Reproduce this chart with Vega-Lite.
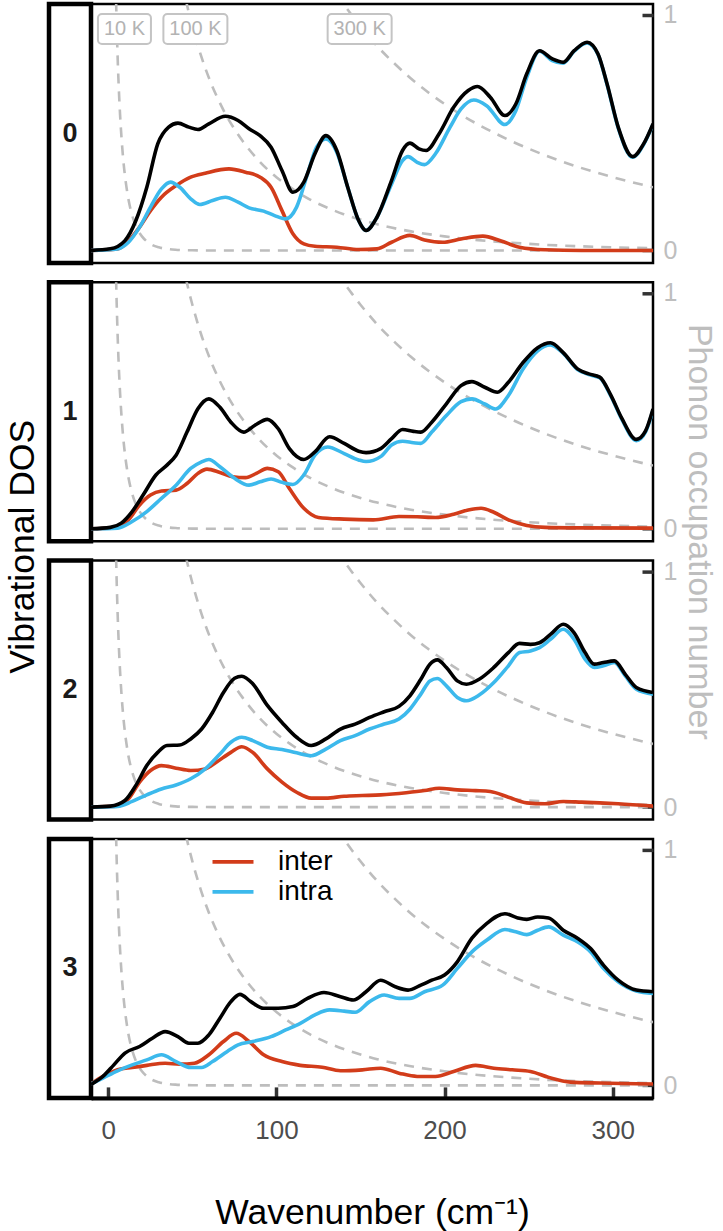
{
  "$schema": "https://vega.github.io/schema/vega-lite/v6.json",
  "padding": {"left": 2, "top": 1, "right": 4, "bottom": 0},
  "config": {
    "font": "Liberation Sans",
    "axis": {"labelFont": "Liberation Sans", "titleFont": "Liberation Sans"},
    "legend": {"labelFont": "Liberation Sans"}
  },
  "datasets": {
    "occ": [
      {"temp": "10 K", "wn": 4.0, "value": 1.285}, {"temp": "10 K", "wn": 4.5, "value": 1.098}, {"temp": "10 K", "wn": 5, "value": 0.95}, {"temp": "10 K", "wn": 5.5, "value": 0.829}, {"temp": "10 K", "wn": 6, "value": 0.729}, {"temp": "10 K", "wn": 7, "value": 0.575}, {"temp": "10 K", "wn": 8, "value": 0.463}, {"temp": "10 K", "wn": 9, "value": 0.377}, {"temp": "10 K", "wn": 10, "value": 0.311}, {"temp": "10 K", "wn": 11, "value": 0.259}, {"temp": "10 K", "wn": 12, "value": 0.216}, {"temp": "10 K", "wn": 14, "value": 0.154}, {"temp": "10 K", "wn": 16, "value": 0.111}, {"temp": "10 K", "wn": 18, "value": 0.081}, {"temp": "10 K", "wn": 20, "value": 0.06}, {"temp": "10 K", "wn": 23, "value": 0.038}, {"temp": "10 K", "wn": 26, "value": 0.024}, {"temp": "10 K", "wn": 30, "value": 0.0135}, {"temp": "10 K", "wn": 35, "value": 0.0065}, {"temp": "10 K", "wn": 40, "value": 0.0032}, {"temp": "10 K", "wn": 50, "value": 0.0008}, {"temp": "10 K", "wn": 70, "value": 0}, {"temp": "10 K", "wn": 324, "value": 0},
      {"temp": "100 K", "wn": 40, "value": 1.285}, {"temp": "100 K", "wn": 42, "value": 1.205}, {"temp": "100 K", "wn": 44, "value": 1.132}, {"temp": "100 K", "wn": 46, "value": 1.066}, {"temp": "100 K", "wn": 48, "value": 1.005}, {"temp": "100 K", "wn": 50, "value": 0.95}, {"temp": "100 K", "wn": 55, "value": 0.829}, {"temp": "100 K", "wn": 60, "value": 0.729}, {"temp": "100 K", "wn": 65, "value": 0.646}, {"temp": "100 K", "wn": 70, "value": 0.575}, {"temp": "100 K", "wn": 75, "value": 0.515}, {"temp": "100 K", "wn": 80, "value": 0.463}, {"temp": "100 K", "wn": 90, "value": 0.377}, {"temp": "100 K", "wn": 100, "value": 0.311}, {"temp": "100 K", "wn": 110, "value": 0.259}, {"temp": "100 K", "wn": 120, "value": 0.216}, {"temp": "100 K", "wn": 130, "value": 0.182}, {"temp": "100 K", "wn": 140, "value": 0.154}, {"temp": "100 K", "wn": 150, "value": 0.131}, {"temp": "100 K", "wn": 160, "value": 0.111}, {"temp": "100 K", "wn": 180, "value": 0.081}, {"temp": "100 K", "wn": 200, "value": 0.06}, {"temp": "100 K", "wn": 220, "value": 0.044}, {"temp": "100 K", "wn": 240, "value": 0.033}, {"temp": "100 K", "wn": 260, "value": 0.024}, {"temp": "100 K", "wn": 280, "value": 0.018}, {"temp": "100 K", "wn": 300, "value": 0.0135}, {"temp": "100 K", "wn": 324, "value": 0.0095},
      {"temp": "300 K", "wn": 125, "value": 1.218}, {"temp": "300 K", "wn": 130, "value": 1.155}, {"temp": "300 K", "wn": 135, "value": 1.098}, {"temp": "300 K", "wn": 140, "value": 1.045}, {"temp": "300 K", "wn": 145, "value": 0.996}, {"temp": "300 K", "wn": 150, "value": 0.95}, {"temp": "300 K", "wn": 160, "value": 0.866}, {"temp": "300 K", "wn": 170, "value": 0.794}, {"temp": "300 K", "wn": 180, "value": 0.729}, {"temp": "300 K", "wn": 190, "value": 0.672}, {"temp": "300 K", "wn": 200, "value": 0.621}, {"temp": "300 K", "wn": 210, "value": 0.575}, {"temp": "300 K", "wn": 220, "value": 0.534}, {"temp": "300 K", "wn": 230, "value": 0.497}, {"temp": "300 K", "wn": 240, "value": 0.463}, {"temp": "300 K", "wn": 260, "value": 0.403}, {"temp": "300 K", "wn": 280, "value": 0.353}, {"temp": "300 K", "wn": 300, "value": 0.311}, {"temp": "300 K", "wn": 324, "value": 0.268}
    ],
    "labels": [
      {"temp": "10 K", "wn": 9.6, "value": 0.939},
      {"temp": "100 K", "wn": 51.8, "value": 0.939},
      {"temp": "300 K", "wn": 149.5, "value": 0.939}
    ],
    "dos": [
      {"panel":0,"comp":"inter","wn":-10.3,"value":0},{"panel":0,"comp":"inter","wn":5.5,"value":0.007},{"panel":0,"comp":"inter","wn":12,"value":0.04},{"panel":0,"comp":"inter","wn":18.6,"value":0.099},{"panel":0,"comp":"inter","wn":25.1,"value":0.169},{"panel":0,"comp":"inter","wn":31.6,"value":0.226},{"panel":0,"comp":"inter","wn":40.3,"value":0.275},{"panel":0,"comp":"inter","wn":49,"value":0.311},{"panel":0,"comp":"inter","wn":57.7,"value":0.328},{"panel":0,"comp":"inter","wn":71.8,"value":0.346},{"panel":0,"comp":"inter","wn":81.6,"value":0.332},{"panel":0,"comp":"inter","wn":90.3,"value":0.311},{"panel":0,"comp":"inter","wn":96.8,"value":0.268},{"panel":0,"comp":"inter","wn":103.3,"value":0.169},{"panel":0,"comp":"inter","wn":109.8,"value":0.071},{"panel":0,"comp":"inter","wn":116.3,"value":0.028},{"panel":0,"comp":"inter","wn":122.9,"value":0.018},{"panel":0,"comp":"inter","wn":135.9,"value":0.014},{"panel":0,"comp":"inter","wn":148.9,"value":0.004},{"panel":0,"comp":"inter","wn":159.8,"value":0.007},{"panel":0,"comp":"inter","wn":168.5,"value":0.035},{"panel":0,"comp":"inter","wn":179.4,"value":0.064},{"panel":0,"comp":"inter","wn":188.1,"value":0.045},{"panel":0,"comp":"inter","wn":198.9,"value":0.035},{"panel":0,"comp":"inter","wn":209.8,"value":0.049},{"panel":0,"comp":"inter","wn":222.8,"value":0.061},{"panel":0,"comp":"inter","wn":233.7,"value":0.04},{"panel":0,"comp":"inter","wn":244.6,"value":0.014},{"panel":0,"comp":"inter","wn":259.8,"value":0.003},{"panel":0,"comp":"inter","wn":281.5,"value":0},{"panel":0,"comp":"inter","wn":324,"value":0},
      {"panel":0,"comp":"intra","wn":-10.3,"value":0},{"panel":0,"comp":"intra","wn":5.5,"value":0.007},{"panel":0,"comp":"intra","wn":12,"value":0.035},{"panel":0,"comp":"intra","wn":18.6,"value":0.099},{"panel":0,"comp":"intra","wn":25.1,"value":0.184},{"panel":0,"comp":"intra","wn":31.6,"value":0.261},{"panel":0,"comp":"intra","wn":37,"value":0.29},{"panel":0,"comp":"intra","wn":42.5,"value":0.268},{"panel":0,"comp":"intra","wn":49,"value":0.219},{"panel":0,"comp":"intra","wn":54.4,"value":0.195},{"panel":0,"comp":"intra","wn":62,"value":0.212},{"panel":0,"comp":"intra","wn":69.6,"value":0.226},{"panel":0,"comp":"intra","wn":77.2,"value":0.205},{"panel":0,"comp":"intra","wn":83.7,"value":0.181},{"panel":0,"comp":"intra","wn":92.4,"value":0.167},{"panel":0,"comp":"intra","wn":98.9,"value":0.148},{"panel":0,"comp":"intra","wn":105.5,"value":0.134},{"panel":0,"comp":"intra","wn":112,"value":0.184},{"panel":0,"comp":"intra","wn":118.5,"value":0.325},{"panel":0,"comp":"intra","wn":123.9,"value":0.438},{"panel":0,"comp":"intra","wn":129.4,"value":0.473},{"panel":0,"comp":"intra","wn":135.9,"value":0.417},{"panel":0,"comp":"intra","wn":142.4,"value":0.268},{"panel":0,"comp":"intra","wn":148.9,"value":0.127},{"panel":0,"comp":"intra","wn":153.3,"value":0.085},{"panel":0,"comp":"intra","wn":159.8,"value":0.141},{"panel":0,"comp":"intra","wn":168.5,"value":0.282},{"panel":0,"comp":"intra","wn":175,"value":0.381},{"panel":0,"comp":"intra","wn":178.3,"value":0.398},{"panel":0,"comp":"intra","wn":183.7,"value":0.374},{"panel":0,"comp":"intra","wn":188.1,"value":0.364},{"panel":0,"comp":"intra","wn":194.6,"value":0.41},{"panel":0,"comp":"intra","wn":203.3,"value":0.523},{"panel":0,"comp":"intra","wn":209.8,"value":0.6},{"panel":0,"comp":"intra","wn":217.4,"value":0.638},{"panel":0,"comp":"intra","wn":225,"value":0.614},{"panel":0,"comp":"intra","wn":235.9,"value":0.534},{"panel":0,"comp":"intra","wn":242.4,"value":0.593},{"panel":0,"comp":"intra","wn":248.9,"value":0.734},{"panel":0,"comp":"intra","wn":256.5,"value":0.845},{"panel":0,"comp":"intra","wn":264.1,"value":0.805},{"panel":0,"comp":"intra","wn":270.6,"value":0.794},{"panel":0,"comp":"intra","wn":277.1,"value":0.845},{"panel":0,"comp":"intra","wn":284.8,"value":0.88},{"panel":0,"comp":"intra","wn":291.3,"value":0.831},{"panel":0,"comp":"intra","wn":296.7,"value":0.703},{"panel":0,"comp":"intra","wn":303.3,"value":0.52},{"panel":0,"comp":"intra","wn":311.9,"value":0.395},{"panel":0,"comp":"intra","wn":318.4,"value":0.449},{"panel":0,"comp":"intra","wn":324,"value":0.534},
      {"panel":0,"comp":"total","wn":-10.3,"value":0},{"panel":0,"comp":"total","wn":1.2,"value":0.007},{"panel":0,"comp":"total","wn":9.9,"value":0.042},{"panel":0,"comp":"total","wn":16.4,"value":0.127},{"panel":0,"comp":"total","wn":22.9,"value":0.268},{"panel":0,"comp":"total","wn":29.4,"value":0.452},{"panel":0,"comp":"total","wn":35.9,"value":0.523},{"panel":0,"comp":"total","wn":41.4,"value":0.54},{"panel":0,"comp":"total","wn":47.9,"value":0.523},{"panel":0,"comp":"total","wn":53.3,"value":0.513},{"panel":0,"comp":"total","wn":59.8,"value":0.537},{"panel":0,"comp":"total","wn":69.6,"value":0.569},{"panel":0,"comp":"total","wn":77.2,"value":0.551},{"panel":0,"comp":"total","wn":83.7,"value":0.516},{"panel":0,"comp":"total","wn":90.3,"value":0.487},{"panel":0,"comp":"total","wn":96.8,"value":0.438},{"panel":0,"comp":"total","wn":103.3,"value":0.339},{"panel":0,"comp":"total","wn":109.8,"value":0.247},{"panel":0,"comp":"total","wn":116.3,"value":0.29},{"panel":0,"comp":"total","wn":122.9,"value":0.41},{"panel":0,"comp":"total","wn":129.4,"value":0.487},{"panel":0,"comp":"total","wn":135.9,"value":0.424},{"panel":0,"comp":"total","wn":142.4,"value":0.268},{"panel":0,"comp":"total","wn":148.9,"value":0.127},{"panel":0,"comp":"total","wn":153.3,"value":0.085},{"panel":0,"comp":"total","wn":159.8,"value":0.141},{"panel":0,"comp":"total","wn":168.5,"value":0.297},{"panel":0,"comp":"total","wn":175,"value":0.424},{"panel":0,"comp":"total","wn":179.4,"value":0.455},{"panel":0,"comp":"total","wn":184.8,"value":0.431},{"panel":0,"comp":"total","wn":189.1,"value":0.424},{"panel":0,"comp":"total","wn":196.7,"value":0.494},{"panel":0,"comp":"total","wn":205.4,"value":0.607},{"panel":0,"comp":"total","wn":214.1,"value":0.678},{"panel":0,"comp":"total","wn":219.6,"value":0.695},{"panel":0,"comp":"total","wn":227.2,"value":0.65},{"panel":0,"comp":"total","wn":235.9,"value":0.572},{"panel":0,"comp":"total","wn":242.4,"value":0.621},{"panel":0,"comp":"total","wn":248.9,"value":0.749},{"panel":0,"comp":"total","wn":256.5,"value":0.847},{"panel":0,"comp":"total","wn":264.1,"value":0.812},{"panel":0,"comp":"total","wn":270.6,"value":0.798},{"panel":0,"comp":"total","wn":277.1,"value":0.847},{"panel":0,"comp":"total","wn":284.8,"value":0.883},{"panel":0,"comp":"total","wn":291.3,"value":0.833},{"panel":0,"comp":"total","wn":296.7,"value":0.706},{"panel":0,"comp":"total","wn":303.3,"value":0.523},{"panel":0,"comp":"total","wn":311.9,"value":0.398},{"panel":0,"comp":"total","wn":318.4,"value":0.452},{"panel":0,"comp":"total","wn":324,"value":0.537},
      {"panel":1,"comp":"inter","wn":-10.3,"value":0},{"panel":1,"comp":"inter","wn":5.5,"value":0.006},{"panel":1,"comp":"inter","wn":12,"value":0.038},{"panel":1,"comp":"inter","wn":18.6,"value":0.101},{"panel":1,"comp":"inter","wn":25.1,"value":0.143},{"panel":1,"comp":"inter","wn":31.6,"value":0.16},{"panel":1,"comp":"inter","wn":40.3,"value":0.164},{"panel":1,"comp":"inter","wn":46.8,"value":0.192},{"panel":1,"comp":"inter","wn":53.3,"value":0.235},{"panel":1,"comp":"inter","wn":58.7,"value":0.253},{"panel":1,"comp":"inter","wn":66.4,"value":0.239},{"panel":1,"comp":"inter","wn":74,"value":0.221},{"panel":1,"comp":"inter","wn":81.6,"value":0.217},{"panel":1,"comp":"inter","wn":88.1,"value":0.235},{"panel":1,"comp":"inter","wn":94.6,"value":0.256},{"panel":1,"comp":"inter","wn":101.1,"value":0.242},{"panel":1,"comp":"inter","wn":107.7,"value":0.171},{"panel":1,"comp":"inter","wn":116.3,"value":0.087},{"panel":1,"comp":"inter","wn":125,"value":0.048},{"panel":1,"comp":"inter","wn":140.3,"value":0.041},{"panel":1,"comp":"inter","wn":157.6,"value":0.038},{"panel":1,"comp":"inter","wn":172.9,"value":0.052},{"panel":1,"comp":"inter","wn":183.7,"value":0.051},{"panel":1,"comp":"inter","wn":194.6,"value":0.048},{"panel":1,"comp":"inter","wn":205.4,"value":0.062},{"panel":1,"comp":"inter","wn":214.1,"value":0.08},{"panel":1,"comp":"inter","wn":221.7,"value":0.087},{"panel":1,"comp":"inter","wn":229.3,"value":0.07},{"panel":1,"comp":"inter","wn":238,"value":0.038},{"panel":1,"comp":"inter","wn":248.9,"value":0.014},{"panel":1,"comp":"inter","wn":259.8,"value":0.006},{"panel":1,"comp":"inter","wn":281.5,"value":0.004},{"panel":1,"comp":"inter","wn":324,"value":0.003},
      {"panel":1,"comp":"intra","wn":-10.3,"value":0},{"panel":1,"comp":"intra","wn":5.5,"value":0.003},{"panel":1,"comp":"intra","wn":14.2,"value":0.031},{"panel":1,"comp":"intra","wn":22.9,"value":0.073},{"panel":1,"comp":"intra","wn":31.6,"value":0.129},{"panel":1,"comp":"intra","wn":40.3,"value":0.185},{"panel":1,"comp":"intra","wn":49,"value":0.256},{"panel":1,"comp":"intra","wn":55.5,"value":0.284},{"panel":1,"comp":"intra","wn":59.8,"value":0.294},{"panel":1,"comp":"intra","wn":66.4,"value":0.263},{"panel":1,"comp":"intra","wn":75.1,"value":0.214},{"panel":1,"comp":"intra","wn":83.7,"value":0.185},{"panel":1,"comp":"intra","wn":90.3,"value":0.199},{"panel":1,"comp":"intra","wn":96.8,"value":0.211},{"panel":1,"comp":"intra","wn":103.3,"value":0.197},{"panel":1,"comp":"intra","wn":109.8,"value":0.188},{"panel":1,"comp":"intra","wn":116.3,"value":0.228},{"panel":1,"comp":"intra","wn":122.9,"value":0.312},{"panel":1,"comp":"intra","wn":130.5,"value":0.347},{"panel":1,"comp":"intra","wn":140.3,"value":0.319},{"panel":1,"comp":"intra","wn":148.9,"value":0.292},{"panel":1,"comp":"intra","wn":153.3,"value":0.285},{"panel":1,"comp":"intra","wn":162,"value":0.306},{"panel":1,"comp":"intra","wn":168.5,"value":0.355},{"panel":1,"comp":"intra","wn":175,"value":0.371},{"panel":1,"comp":"intra","wn":181.5,"value":0.365},{"panel":1,"comp":"intra","wn":185.9,"value":0.362},{"panel":1,"comp":"intra","wn":192.4,"value":0.41},{"panel":1,"comp":"intra","wn":201.1,"value":0.48},{"panel":1,"comp":"intra","wn":209.8,"value":0.539},{"panel":1,"comp":"intra","wn":216.3,"value":0.551},{"panel":1,"comp":"intra","wn":223.9,"value":0.529},{"panel":1,"comp":"intra","wn":230.4,"value":0.508},{"panel":1,"comp":"intra","wn":238,"value":0.565},{"panel":1,"comp":"intra","wn":246.7,"value":0.677},{"panel":1,"comp":"intra","wn":255.4,"value":0.754},{"panel":1,"comp":"intra","wn":263,"value":0.779},{"panel":1,"comp":"intra","wn":270.6,"value":0.744},{"panel":1,"comp":"intra","wn":279.3,"value":0.674},{"panel":1,"comp":"intra","wn":285.8,"value":0.654},{"panel":1,"comp":"intra","wn":292.3,"value":0.64},{"panel":1,"comp":"intra","wn":298.9,"value":0.563},{"panel":1,"comp":"intra","wn":305.4,"value":0.465},{"panel":1,"comp":"intra","wn":314.1,"value":0.374},{"panel":1,"comp":"intra","wn":319.5,"value":0.41},{"panel":1,"comp":"intra","wn":324,"value":0.503},
      {"panel":1,"comp":"total","wn":-10.3,"value":0},{"panel":1,"comp":"total","wn":1.2,"value":0.006},{"panel":1,"comp":"total","wn":7.7,"value":0.024},{"panel":1,"comp":"total","wn":14.2,"value":0.073},{"panel":1,"comp":"total","wn":20.7,"value":0.143},{"panel":1,"comp":"total","wn":28.3,"value":0.228},{"panel":1,"comp":"total","wn":34.9,"value":0.27},{"panel":1,"comp":"total","wn":40.3,"value":0.312},{"panel":1,"comp":"total","wn":46.8,"value":0.41},{"panel":1,"comp":"total","wn":53.3,"value":0.509},{"panel":1,"comp":"total","wn":59.8,"value":0.551},{"panel":1,"comp":"total","wn":66.4,"value":0.515},{"panel":1,"comp":"total","wn":72.9,"value":0.452},{"panel":1,"comp":"total","wn":80.5,"value":0.41},{"panel":1,"comp":"total","wn":87,"value":0.438},{"panel":1,"comp":"total","wn":94.6,"value":0.464},{"panel":1,"comp":"total","wn":101.1,"value":0.424},{"panel":1,"comp":"total","wn":107.7,"value":0.34},{"panel":1,"comp":"total","wn":116.3,"value":0.294},{"panel":1,"comp":"total","wn":122.9,"value":0.326},{"panel":1,"comp":"total","wn":131.6,"value":0.39},{"panel":1,"comp":"total","wn":140.3,"value":0.362},{"panel":1,"comp":"total","wn":148.9,"value":0.329},{"panel":1,"comp":"total","wn":153.3,"value":0.323},{"panel":1,"comp":"total","wn":162,"value":0.34},{"panel":1,"comp":"total","wn":168.5,"value":0.382},{"panel":1,"comp":"total","wn":175,"value":0.421},{"panel":1,"comp":"total","wn":181.5,"value":0.413},{"panel":1,"comp":"total","wn":185.9,"value":0.41},{"panel":1,"comp":"total","wn":192.4,"value":0.452},{"panel":1,"comp":"total","wn":201.1,"value":0.53},{"panel":1,"comp":"total","wn":209.8,"value":0.607},{"panel":1,"comp":"total","wn":216.3,"value":0.624},{"panel":1,"comp":"total","wn":223.9,"value":0.6},{"panel":1,"comp":"total","wn":231.5,"value":0.579},{"panel":1,"comp":"total","wn":238,"value":0.621},{"panel":1,"comp":"total","wn":246.7,"value":0.705},{"panel":1,"comp":"total","wn":255.4,"value":0.768},{"panel":1,"comp":"total","wn":263,"value":0.789},{"panel":1,"comp":"total","wn":270.6,"value":0.747},{"panel":1,"comp":"total","wn":279.3,"value":0.677},{"panel":1,"comp":"total","wn":285.8,"value":0.657},{"panel":1,"comp":"total","wn":292.3,"value":0.643},{"panel":1,"comp":"total","wn":298.9,"value":0.567},{"panel":1,"comp":"total","wn":305.4,"value":0.469},{"panel":1,"comp":"total","wn":314.1,"value":0.379},{"panel":1,"comp":"total","wn":319.5,"value":0.414},{"panel":1,"comp":"total","wn":324,"value":0.508},
      {"panel":2,"comp":"inter","wn":-10.3,"value":0},{"panel":2,"comp":"inter","wn":5.5,"value":0.004},{"panel":2,"comp":"inter","wn":12,"value":0.035},{"panel":2,"comp":"inter","wn":18.6,"value":0.106},{"panel":2,"comp":"inter","wn":25.1,"value":0.155},{"panel":2,"comp":"inter","wn":31.6,"value":0.176},{"panel":2,"comp":"inter","wn":40.3,"value":0.165},{"panel":2,"comp":"inter","wn":49,"value":0.155},{"panel":2,"comp":"inter","wn":57.7,"value":0.162},{"panel":2,"comp":"inter","wn":64.2,"value":0.19},{"panel":2,"comp":"inter","wn":72.9,"value":0.232},{"panel":2,"comp":"inter","wn":79.4,"value":0.256},{"panel":2,"comp":"inter","wn":85.9,"value":0.232},{"panel":2,"comp":"inter","wn":94.6,"value":0.162},{"panel":2,"comp":"inter","wn":103.3,"value":0.106},{"panel":2,"comp":"inter","wn":112,"value":0.063},{"panel":2,"comp":"inter","wn":120.7,"value":0.038},{"panel":2,"comp":"inter","wn":129.4,"value":0.038},{"panel":2,"comp":"inter","wn":140.3,"value":0.046},{"panel":2,"comp":"inter","wn":151.1,"value":0.049},{"panel":2,"comp":"inter","wn":162,"value":0.052},{"panel":2,"comp":"inter","wn":177.2,"value":0.061},{"panel":2,"comp":"inter","wn":188.1,"value":0.07},{"panel":2,"comp":"inter","wn":196.8,"value":0.08},{"panel":2,"comp":"inter","wn":207.6,"value":0.073},{"panel":2,"comp":"inter","wn":218.5,"value":0.07},{"panel":2,"comp":"inter","wn":227.2,"value":0.066},{"panel":2,"comp":"inter","wn":238,"value":0.042},{"panel":2,"comp":"inter","wn":248.9,"value":0.018},{"panel":2,"comp":"inter","wn":259.8,"value":0.014},{"panel":2,"comp":"inter","wn":270.6,"value":0.024},{"panel":2,"comp":"inter","wn":281.5,"value":0.021},{"panel":2,"comp":"inter","wn":292.3,"value":0.018},{"panel":2,"comp":"inter","wn":303.3,"value":0.014},{"panel":2,"comp":"inter","wn":324,"value":0.004},
      {"panel":2,"comp":"intra","wn":-10.3,"value":0},{"panel":2,"comp":"intra","wn":5.5,"value":0.003},{"panel":2,"comp":"intra","wn":14.2,"value":0.024},{"panel":2,"comp":"intra","wn":22.9,"value":0.052},{"panel":2,"comp":"intra","wn":31.6,"value":0.077},{"panel":2,"comp":"intra","wn":40.3,"value":0.094},{"panel":2,"comp":"intra","wn":49,"value":0.12},{"panel":2,"comp":"intra","wn":57.7,"value":0.162},{"panel":2,"comp":"intra","wn":66.4,"value":0.225},{"panel":2,"comp":"intra","wn":72.9,"value":0.275},{"panel":2,"comp":"intra","wn":79.4,"value":0.296},{"panel":2,"comp":"intra","wn":85.9,"value":0.282},{"panel":2,"comp":"intra","wn":94.6,"value":0.254},{"panel":2,"comp":"intra","wn":103.3,"value":0.244},{"panel":2,"comp":"intra","wn":112,"value":0.23},{"panel":2,"comp":"intra","wn":120.7,"value":0.218},{"panel":2,"comp":"intra","wn":129.4,"value":0.246},{"panel":2,"comp":"intra","wn":138.1,"value":0.282},{"panel":2,"comp":"intra","wn":146.8,"value":0.303},{"panel":2,"comp":"intra","wn":155.4,"value":0.331},{"panel":2,"comp":"intra","wn":164.1,"value":0.352},{"panel":2,"comp":"intra","wn":172.9,"value":0.373},{"panel":2,"comp":"intra","wn":179.4,"value":0.415},{"panel":2,"comp":"intra","wn":185.9,"value":0.479},{"panel":2,"comp":"intra","wn":191.3,"value":0.535},{"panel":2,"comp":"intra","wn":195.7,"value":0.545},{"panel":2,"comp":"intra","wn":201.1,"value":0.514},{"panel":2,"comp":"intra","wn":207.6,"value":0.465},{"panel":2,"comp":"intra","wn":213,"value":0.451},{"panel":2,"comp":"intra","wn":220.6,"value":0.475},{"panel":2,"comp":"intra","wn":229.3,"value":0.528},{"panel":2,"comp":"intra","wn":238,"value":0.599},{"panel":2,"comp":"intra","wn":244.6,"value":0.655},{"panel":2,"comp":"intra","wn":251.1,"value":0.662},{"panel":2,"comp":"intra","wn":256.5,"value":0.676},{"panel":2,"comp":"intra","wn":263,"value":0.711},{"panel":2,"comp":"intra","wn":270.6,"value":0.754},{"panel":2,"comp":"intra","wn":277.1,"value":0.711},{"panel":2,"comp":"intra","wn":283.6,"value":0.627},{"panel":2,"comp":"intra","wn":289.1,"value":0.592},{"panel":2,"comp":"intra","wn":294.5,"value":0.599},{"panel":2,"comp":"intra","wn":301,"value":0.613},{"panel":2,"comp":"intra","wn":307.5,"value":0.556},{"panel":2,"comp":"intra","wn":314.1,"value":0.5},{"panel":2,"comp":"intra","wn":324,"value":0.479},
      {"panel":2,"comp":"total","wn":-10.3,"value":0},{"panel":2,"comp":"total","wn":1.2,"value":0.004},{"panel":2,"comp":"total","wn":9.9,"value":0.028},{"panel":2,"comp":"total","wn":16.4,"value":0.092},{"panel":2,"comp":"total","wn":22.9,"value":0.176},{"panel":2,"comp":"total","wn":29.4,"value":0.232},{"panel":2,"comp":"total","wn":34.9,"value":0.261},{"panel":2,"comp":"total","wn":42.5,"value":0.263},{"panel":2,"comp":"total","wn":49,"value":0.289},{"panel":2,"comp":"total","wn":55.5,"value":0.331},{"panel":2,"comp":"total","wn":62,"value":0.401},{"panel":2,"comp":"total","wn":68.5,"value":0.486},{"panel":2,"comp":"total","wn":75.1,"value":0.546},{"panel":2,"comp":"total","wn":79.4,"value":0.555},{"panel":2,"comp":"total","wn":85.9,"value":0.523},{"panel":2,"comp":"total","wn":94.6,"value":0.431},{"panel":2,"comp":"total","wn":103.3,"value":0.359},{"panel":2,"comp":"total","wn":112,"value":0.296},{"panel":2,"comp":"total","wn":120.7,"value":0.261},{"panel":2,"comp":"total","wn":129.4,"value":0.289},{"panel":2,"comp":"total","wn":138.1,"value":0.331},{"panel":2,"comp":"total","wn":146.8,"value":0.352},{"panel":2,"comp":"total","wn":155.4,"value":0.38},{"panel":2,"comp":"total","wn":164.1,"value":0.404},{"panel":2,"comp":"total","wn":172.9,"value":0.427},{"panel":2,"comp":"total","wn":179.4,"value":0.472},{"panel":2,"comp":"total","wn":185.9,"value":0.542},{"panel":2,"comp":"total","wn":191.3,"value":0.606},{"panel":2,"comp":"total","wn":195.7,"value":0.624},{"panel":2,"comp":"total","wn":201.1,"value":0.592},{"panel":2,"comp":"total","wn":207.6,"value":0.535},{"panel":2,"comp":"total","wn":213,"value":0.521},{"panel":2,"comp":"total","wn":220.6,"value":0.542},{"panel":2,"comp":"total","wn":229.3,"value":0.592},{"panel":2,"comp":"total","wn":238,"value":0.655},{"panel":2,"comp":"total","wn":244.6,"value":0.694},{"panel":2,"comp":"total","wn":251.1,"value":0.69},{"panel":2,"comp":"total","wn":256.5,"value":0.697},{"panel":2,"comp":"total","wn":263,"value":0.732},{"panel":2,"comp":"total","wn":270.6,"value":0.775},{"panel":2,"comp":"total","wn":277.1,"value":0.739},{"panel":2,"comp":"total","wn":283.6,"value":0.655},{"panel":2,"comp":"total","wn":289.1,"value":0.606},{"panel":2,"comp":"total","wn":294.5,"value":0.613},{"panel":2,"comp":"total","wn":301,"value":0.62},{"panel":2,"comp":"total","wn":307.5,"value":0.563},{"panel":2,"comp":"total","wn":314.1,"value":0.507},{"panel":2,"comp":"total","wn":324,"value":0.486},
      {"panel":3,"comp":"inter","wn":-10.3,"value":0.006},{"panel":3,"comp":"inter","wn":-3.2,"value":0.038},{"panel":3,"comp":"inter","wn":5.5,"value":0.066},{"panel":3,"comp":"inter","wn":14.2,"value":0.076},{"panel":3,"comp":"inter","wn":22.9,"value":0.085},{"panel":3,"comp":"inter","wn":33.8,"value":0.094},{"panel":3,"comp":"inter","wn":42.5,"value":0.09},{"panel":3,"comp":"inter","wn":51.2,"value":0.094},{"panel":3,"comp":"inter","wn":59.8,"value":0.13},{"panel":3,"comp":"inter","wn":68.5,"value":0.186},{"panel":3,"comp":"inter","wn":76.1,"value":0.221},{"panel":3,"comp":"inter","wn":83.7,"value":0.186},{"panel":3,"comp":"inter","wn":92.4,"value":0.13},{"panel":3,"comp":"inter","wn":103.3,"value":0.101},{"panel":3,"comp":"inter","wn":114.2,"value":0.085},{"panel":3,"comp":"inter","wn":127.2,"value":0.077},{"panel":3,"comp":"inter","wn":138.1,"value":0.062},{"panel":3,"comp":"inter","wn":151.1,"value":0.066},{"panel":3,"comp":"inter","wn":162,"value":0.073},{"panel":3,"comp":"inter","wn":172.9,"value":0.052},{"panel":3,"comp":"inter","wn":183.7,"value":0.038},{"panel":3,"comp":"inter","wn":194.6,"value":0.038},{"panel":3,"comp":"inter","wn":205.4,"value":0.059},{"panel":3,"comp":"inter","wn":218.5,"value":0.085},{"panel":3,"comp":"inter","wn":229.3,"value":0.073},{"panel":3,"comp":"inter","wn":240.2,"value":0.066},{"panel":3,"comp":"inter","wn":251.1,"value":0.059},{"panel":3,"comp":"inter","wn":262,"value":0.034},{"panel":3,"comp":"inter","wn":275,"value":0.014},{"panel":3,"comp":"inter","wn":292.3,"value":0.01},{"panel":3,"comp":"inter","wn":324,"value":0.006},
      {"panel":3,"comp":"intra","wn":-10.3,"value":0.006},{"panel":3,"comp":"intra","wn":-3.2,"value":0.031},{"panel":3,"comp":"intra","wn":5.5,"value":0.062},{"panel":3,"comp":"intra","wn":14.2,"value":0.087},{"panel":3,"comp":"intra","wn":22.9,"value":0.108},{"panel":3,"comp":"intra","wn":31.6,"value":0.13},{"panel":3,"comp":"intra","wn":40.3,"value":0.101},{"panel":3,"comp":"intra","wn":49,"value":0.076},{"panel":3,"comp":"intra","wn":55.5,"value":0.076},{"panel":3,"comp":"intra","wn":62,"value":0.101},{"panel":3,"comp":"intra","wn":70.8,"value":0.144},{"panel":3,"comp":"intra","wn":77.2,"value":0.172},{"panel":3,"comp":"intra","wn":85.9,"value":0.186},{"panel":3,"comp":"intra","wn":96.8,"value":0.207},{"panel":3,"comp":"intra","wn":105.5,"value":0.235},{"panel":3,"comp":"intra","wn":114.2,"value":0.263},{"panel":3,"comp":"intra","wn":122.9,"value":0.299},{"panel":3,"comp":"intra","wn":131.6,"value":0.32},{"panel":3,"comp":"intra","wn":140.3,"value":0.315},{"panel":3,"comp":"intra","wn":146.8,"value":0.31},{"panel":3,"comp":"intra","wn":155.4,"value":0.355},{"panel":3,"comp":"intra","wn":164.1,"value":0.383},{"panel":3,"comp":"intra","wn":172.9,"value":0.369},{"panel":3,"comp":"intra","wn":179.4,"value":0.369},{"panel":3,"comp":"intra","wn":188.1,"value":0.397},{"panel":3,"comp":"intra","wn":198.9,"value":0.425},{"panel":3,"comp":"intra","wn":207.6,"value":0.496},{"panel":3,"comp":"intra","wn":216.3,"value":0.566},{"panel":3,"comp":"intra","wn":225,"value":0.615},{"panel":3,"comp":"intra","wn":235.9,"value":0.661},{"panel":3,"comp":"intra","wn":242.4,"value":0.651},{"panel":3,"comp":"intra","wn":248.9,"value":0.639},{"panel":3,"comp":"intra","wn":255.4,"value":0.658},{"panel":3,"comp":"intra","wn":261.9,"value":0.672},{"panel":3,"comp":"intra","wn":270.6,"value":0.637},{"panel":3,"comp":"intra","wn":279.3,"value":0.608},{"panel":3,"comp":"intra","wn":286.9,"value":0.566},{"panel":3,"comp":"intra","wn":294.5,"value":0.496},{"panel":3,"comp":"intra","wn":303.3,"value":0.439},{"panel":3,"comp":"intra","wn":314.1,"value":0.4},{"panel":3,"comp":"intra","wn":324,"value":0.39},
      {"panel":3,"comp":"total","wn":-10.3,"value":0.004},{"panel":3,"comp":"total","wn":-3.2,"value":0.038},{"panel":3,"comp":"total","wn":3.3,"value":0.087},{"panel":3,"comp":"total","wn":9.9,"value":0.137},{"panel":3,"comp":"total","wn":18.6,"value":0.165},{"panel":3,"comp":"total","wn":26.2,"value":0.2},{"panel":3,"comp":"total","wn":33.8,"value":0.228},{"panel":3,"comp":"total","wn":41.4,"value":0.207},{"panel":3,"comp":"total","wn":47.9,"value":0.179},{"panel":3,"comp":"total","wn":53.3,"value":0.179},{"panel":3,"comp":"total","wn":59.8,"value":0.214},{"panel":3,"comp":"total","wn":66.4,"value":0.285},{"panel":3,"comp":"total","wn":72.9,"value":0.355},{"panel":3,"comp":"total","wn":78.3,"value":0.386},{"panel":3,"comp":"total","wn":84.8,"value":0.355},{"panel":3,"comp":"total","wn":92.4,"value":0.327},{"panel":3,"comp":"total","wn":101.1,"value":0.327},{"panel":3,"comp":"total","wn":109.8,"value":0.334},{"panel":3,"comp":"total","wn":118.5,"value":0.369},{"panel":3,"comp":"total","wn":128.3,"value":0.394},{"panel":3,"comp":"total","wn":138.1,"value":0.376},{"panel":3,"comp":"total","wn":145.7,"value":0.362},{"panel":3,"comp":"total","wn":153.3,"value":0.397},{"panel":3,"comp":"total","wn":162,"value":0.446},{"panel":3,"comp":"total","wn":170.7,"value":0.418},{"panel":3,"comp":"total","wn":178.3,"value":0.404},{"panel":3,"comp":"total","wn":185.9,"value":0.425},{"panel":3,"comp":"total","wn":192.4,"value":0.446},{"panel":3,"comp":"total","wn":200,"value":0.468},{"panel":3,"comp":"total","wn":207.6,"value":0.524},{"panel":3,"comp":"total","wn":216.3,"value":0.624},{"panel":3,"comp":"total","wn":225,"value":0.686},{"panel":3,"comp":"total","wn":235.9,"value":0.728},{"panel":3,"comp":"total","wn":243.5,"value":0.71},{"panel":3,"comp":"total","wn":248.9,"value":0.704},{"panel":3,"comp":"total","wn":255.4,"value":0.714},{"panel":3,"comp":"total","wn":261.9,"value":0.71},{"panel":3,"comp":"total","wn":270.6,"value":0.658},{"panel":3,"comp":"total","wn":279.3,"value":0.623},{"panel":3,"comp":"total","wn":286.9,"value":0.58},{"panel":3,"comp":"total","wn":294.5,"value":0.51},{"panel":3,"comp":"total","wn":303.3,"value":0.446},{"panel":3,"comp":"total","wn":314.1,"value":0.404},{"panel":3,"comp":"total","wn":324,"value":0.397}
    ]
  },
  "columns": 2,
  "spacing": {"row": 19.3, "column": 0},
  "bounds": "flush",
  "resolve": {"scale": {"color": "independent"}, "legend": {"color": "independent"}},
  "concat": [
    {
      "width": 42, "height": 259,
      "view": {"stroke": "black", "strokeWidth": 4.5},
      "data": {"values": [{"panel": "0"}]},
      "mark": {"type": "text", "fontSize": 27, "fontWeight": "bold", "color": "#1a1a1a", "baseline": "middle", "align": "center"},
      "encoding": {
        "text": {"field": "panel"},
        "x": {"datum": 0.5, "type": "quantitative", "scale": {"domain": [0, 1]}, "axis": null},
        "y": {"datum": 0.5, "type": "quantitative", "scale": {"domain": [0, 1]}, "axis": null}
      }
    },
    {
      "width": 562, "height": 259,
      "view": {"stroke": "black", "strokeWidth": 2.5},
      "encoding": {
        "x": {"field": "wn", "type": "quantitative", "scale": {"domain": [-10.3, 324], "nice": false, "zero": false}, "axis": null},
        "y": {"field": "value", "type": "quantitative", "scale": {"domain": [-0.053, 1.045], "nice": false, "zero": false},
          "axis": {"orient": "right", "values": [0, 1], "format": "d", "title": null, "grid": false, "domain": false, "tickSize": -11, "tickWidth": 3.5, "tickColor": "#333333", "labelFontSize": 25, "labelColor": "#bebebe", "labelPadding": 21, "labelFlush": false, "labelBaseline": "middle"}}
      },
      "layer": [
        {"data": {"name": "occ"}, "mark": {"type": "line", "clip": true, "color": "#bdbdbd", "strokeWidth": 2.6, "strokeDash": [10, 8], "interpolate": "monotone"}, "encoding": {"detail": {"field": "temp"}}},
        {"data": {"name": "labels"}, "transform": [{"filter": "datum.temp == '10 K'"}], "mark": {"type": "rect", "fill": "white", "stroke": "#c4c4c4", "strokeWidth": 2, "cornerRadius": 4, "xOffset": -26.5, "x2Offset": 26.5, "yOffset": -15, "y2Offset": 15}, "encoding": {"x2": {"field": "wn"}, "y2": {"field": "value"}}},
        {"data": {"name": "labels"}, "transform": [{"filter": "datum.temp != '10 K'"}], "mark": {"type": "rect", "fill": "white", "stroke": "#c4c4c4", "strokeWidth": 2, "cornerRadius": 4, "xOffset": -32, "x2Offset": 32, "yOffset": -15, "y2Offset": 15}, "encoding": {"x2": {"field": "wn"}, "y2": {"field": "value"}}},
        {"data": {"name": "labels"}, "mark": {"type": "text", "fontSize": 20, "color": "#b3b3b3", "align": "center", "baseline": "middle"}, "encoding": {"text": {"field": "temp"}}},
        {"data": {"name": "dos"}, "transform": [{"filter": "datum.panel == 0"}], "mark": {"type": "line", "clip": true, "strokeWidth": 3.6, "interpolate": "monotone"},
          "encoding": {"color": {"field": "comp", "type": "nominal", "scale": {"domain": ["inter", "intra", "total"], "range": ["#d23c1a", "#3cb9ec", "#000000"]}, "legend": null}}}
      ]
    },
    {
      "width": 42, "height": 259,
      "view": {"stroke": "black", "strokeWidth": 4.5},
      "data": {"values": [{"panel": "1"}]},
      "mark": {"type": "text", "fontSize": 27, "fontWeight": "bold", "color": "#1a1a1a", "baseline": "middle", "align": "center"},
      "encoding": {
        "text": {"field": "panel"},
        "x": {"datum": 0.5, "type": "quantitative", "scale": {"domain": [0, 1]}, "axis": null},
        "y": {"datum": 0.5, "type": "quantitative", "scale": {"domain": [0, 1]},
          "axis": {"orient": "left", "title": "Vibrational DOS", "domain": false, "ticks": false, "labels": false, "grid": false, "titleFontSize": 35.5, "titleFontWeight": "normal", "titleColor": "black", "titleAngle": -90, "titleBaseline": "alphabetic", "titleAlign": "center", "titleX": -16, "titleY": 264}}
      }
    },
    {
      "width": 562, "height": 259,
      "view": {"stroke": "black", "strokeWidth": 2.5},
      "encoding": {
        "x": {"field": "wn", "type": "quantitative", "scale": {"domain": [-10.3, 324], "nice": false, "zero": false}, "axis": null},
        "y": {"field": "value", "type": "quantitative", "scale": {"domain": [-0.053, 1.045], "nice": false, "zero": false},
          "axis": {"orient": "right", "values": [0, 1], "format": "d", "title": "Phonon occupation number", "grid": false, "domain": false, "tickSize": -11, "tickWidth": 3.5, "tickColor": "#333333", "labelFontSize": 25, "labelColor": "#bebebe", "labelPadding": 21, "labelFlush": false, "labelBaseline": "middle", "titleFontSize": 34, "titleFontWeight": "normal", "titleColor": "#bebebe", "titleAngle": 90, "titleBaseline": "alphabetic", "titleAlign": "center", "titleX": 35, "titleY": 249}}
      },
      "layer": [
        {"data": {"name": "occ"}, "mark": {"type": "line", "clip": true, "color": "#bdbdbd", "strokeWidth": 2.6, "strokeDash": [10, 8], "interpolate": "monotone"}, "encoding": {"detail": {"field": "temp"}}},
        {"data": {"name": "dos"}, "transform": [{"filter": "datum.panel == 1"}], "mark": {"type": "line", "clip": true, "strokeWidth": 3.6, "interpolate": "monotone"},
          "encoding": {"color": {"field": "comp", "type": "nominal", "scale": {"domain": ["inter", "intra", "total"], "range": ["#d23c1a", "#3cb9ec", "#000000"]}, "legend": null}}}
      ]
    },
    {
      "width": 42, "height": 259,
      "view": {"stroke": "black", "strokeWidth": 4.5},
      "data": {"values": [{"panel": "2"}]},
      "mark": {"type": "text", "fontSize": 27, "fontWeight": "bold", "color": "#1a1a1a", "baseline": "middle", "align": "center"},
      "encoding": {
        "text": {"field": "panel"},
        "x": {"datum": 0.5, "type": "quantitative", "scale": {"domain": [0, 1]}, "axis": null},
        "y": {"datum": 0.5, "type": "quantitative", "scale": {"domain": [0, 1]}, "axis": null}
      }
    },
    {
      "width": 562, "height": 259,
      "view": {"stroke": "black", "strokeWidth": 2.5},
      "encoding": {
        "x": {"field": "wn", "type": "quantitative", "scale": {"domain": [-10.3, 324], "nice": false, "zero": false}, "axis": null},
        "y": {"field": "value", "type": "quantitative", "scale": {"domain": [-0.053, 1.045], "nice": false, "zero": false},
          "axis": {"orient": "right", "values": [0, 1], "format": "d", "title": null, "grid": false, "domain": false, "tickSize": -11, "tickWidth": 3.5, "tickColor": "#333333", "labelFontSize": 25, "labelColor": "#bebebe", "labelPadding": 21, "labelFlush": false, "labelBaseline": "middle"}}
      },
      "layer": [
        {"data": {"name": "occ"}, "mark": {"type": "line", "clip": true, "color": "#bdbdbd", "strokeWidth": 2.6, "strokeDash": [10, 8], "interpolate": "monotone"}, "encoding": {"detail": {"field": "temp"}}},
        {"data": {"name": "dos"}, "transform": [{"filter": "datum.panel == 2"}], "mark": {"type": "line", "clip": true, "strokeWidth": 3.6, "interpolate": "monotone"},
          "encoding": {"color": {"field": "comp", "type": "nominal", "scale": {"domain": ["inter", "intra", "total"], "range": ["#d23c1a", "#3cb9ec", "#000000"]}, "legend": null}}}
      ]
    },
    {
      "width": 42, "height": 259,
      "view": {"stroke": "black", "strokeWidth": 4.5},
      "data": {"values": [{"panel": "3"}]},
      "mark": {"type": "text", "fontSize": 27, "fontWeight": "bold", "color": "#1a1a1a", "baseline": "middle", "align": "center"},
      "encoding": {
        "text": {"field": "panel"},
        "x": {"datum": 0.5, "type": "quantitative", "scale": {"domain": [0, 1]}, "axis": null},
        "y": {"datum": 0.5, "type": "quantitative", "scale": {"domain": [0, 1]}, "axis": null}
      }
    },
    {
      "width": 562, "height": 259,
      "view": {"stroke": "black", "strokeWidth": 2.5},
      "encoding": {
        "x": {"field": "wn", "type": "quantitative", "scale": {"domain": [-10.3, 324], "nice": false, "zero": false},
          "axis": {"values": [0, 100, 200, 300], "title": "Wavenumber (cm⁻¹)", "grid": false, "domain": true, "domainColor": "black", "domainWidth": 4, "tickSize": -11, "tickWidth": 3.5, "tickColor": "#333333", "labelFontSize": 26, "labelColor": "#4d4d4d", "labelPadding": 31, "labelFlush": false, "titleFontSize": 35.5, "titleFontWeight": "normal", "titleColor": "black", "titleBaseline": "alphabetic", "titleAlign": "center", "titleX": 281, "titleY": 126}},
        "y": {"field": "value", "type": "quantitative", "scale": {"domain": [-0.053, 1.045], "nice": false, "zero": false},
          "axis": {"orient": "right", "values": [0, 1], "format": "d", "title": null, "grid": false, "domain": false, "tickSize": -11, "tickWidth": 3.5, "tickColor": "#333333", "labelFontSize": 25, "labelColor": "#bebebe", "labelPadding": 21, "labelFlush": false, "labelBaseline": "middle"}}
      },
      "layer": [
        {"data": {"name": "occ"}, "mark": {"type": "line", "clip": true, "color": "#bdbdbd", "strokeWidth": 2.6, "strokeDash": [10, 8], "interpolate": "monotone"}, "encoding": {"detail": {"field": "temp"}}},
        {"data": {"name": "dos"}, "transform": [{"filter": "datum.panel == 3"}], "mark": {"type": "line", "clip": true, "strokeWidth": 3.6, "interpolate": "monotone"},
          "encoding": {"color": {"field": "comp", "type": "nominal", "scale": {"domain": ["inter", "intra", "total"], "range": ["#d23c1a", "#3cb9ec", "#000000"]},
            "legend": {"values": ["inter", "intra"], "orient": "none", "legendX": 128, "legendY": 9, "title": null, "symbolType": "M-2,0H2", "symbolSize": 420, "symbolStrokeWidth": 3.8, "labelFontSize": 28, "labelColor": "black", "labelOffset": 31, "rowPadding": 2, "padding": 0}}}}
      ]
    }
  ]
}
